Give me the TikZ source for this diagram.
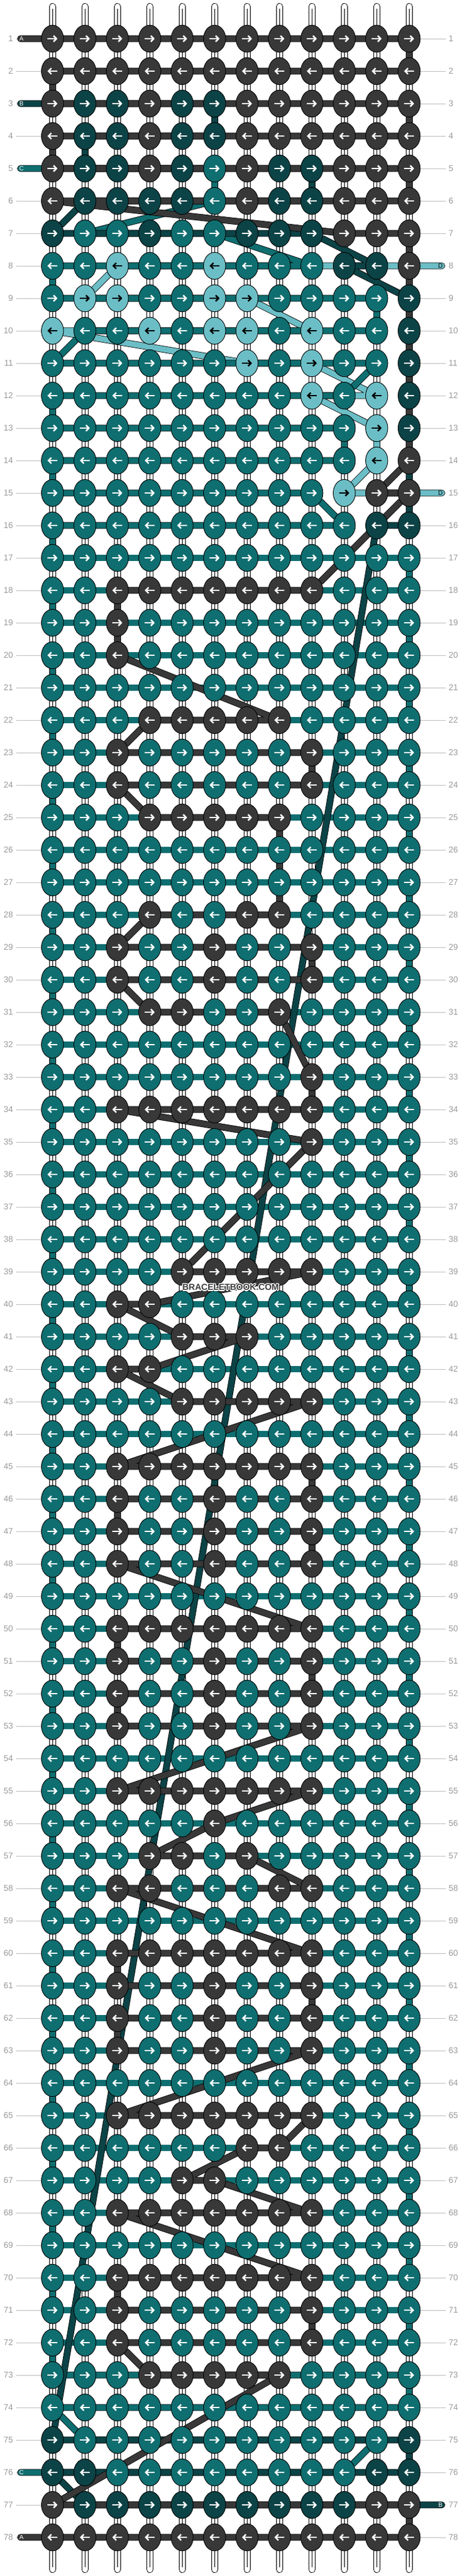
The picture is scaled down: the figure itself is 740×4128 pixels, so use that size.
\documentclass[tikz,border=0pt]{standalone}
\usepackage{fontspec}
\setmainfont{Liberation Sans}
\usetikzlibrary{shapes.geometric,arrows.meta}
\definecolor{colA}{HTML}{383838}
\definecolor{colB}{HTML}{0C4346}
\definecolor{colC}{HTML}{0F6E70}
\definecolor{colD}{HTML}{6CBEC6}
\definecolor{numgray}{HTML}{9A9A9A}
\definecolor{linegray}{HTML}{C0C0C0}
\definecolor{wmgray}{HTML}{3C3C3C}
\pgfdeclarelayer{back}
\pgfdeclarelayer{strings}
\pgfsetlayers{back,strings,main}
\tikzset{
  knot/.style={ellipse, draw=black, line width=0.9pt, minimum width=35.5pt, minimum height=43.3pt, inner sep=0pt},
  arr/.style={line width=2.4pt, -{Straight Barb[length=4.6pt,width=9.5pt]}},
  strand/.style={draw=black, line width=0.8pt, double distance=9.2pt, line cap=round, line join=round},
  strA/.style={strand, double=colA},
  strB/.style={strand, double=colB},
  strC/.style={strand, double=colC},
  strD/.style={strand, double=colD},
  basestrip/.style={draw=black, line width=0.8pt, double=white, double distance=9.4pt, line cap=round},
  stripmid/.style={draw=black, line width=0.6pt},
  rownum/.style={font=\fontsize{13.5}{14}\selectfont, text=numgray, inner sep=0pt},
  rowline/.style={draw=linegray, line width=1pt},
  tag/.style={font=\fontsize{10}{10}\selectfont, inner sep=0pt},
  wm/.style={font=\bfseries\fontsize{14}{14}\selectfont, inner sep=0pt}
}
\newcommand\placeknot[3]{%
  \node[knot, fill=col#3] (k#1-#2) at ({84.2+52*(#2-1)},{62+52*(#1-1)}) {};%
  \if#3D\def\arrcol{black}\else\def\arrcol{white}\fi
  \ifodd#1\relax
    \draw[arr, draw=\arrcol] ([xshift=-8pt]k#1-#2.center) -- ([xshift=8pt]k#1-#2.center);%
  \else
    \draw[arr, draw=\arrcol] ([xshift=8pt]k#1-#2.center) -- ([xshift=-8pt]k#1-#2.center);%
  \fi}
\makeatletter
\newcommand\knotrow[2]{%
  \def\kc{0}%
  \@tfor\kch:=#2\do{%
    \pgfmathtruncatemacro\kc{\kc+1}%
    \edef\kdo{\noexpand\placeknot{#1}{\kc}{\kch}}\kdo
  }}
\makeatother
\begin{document}
\begin{tikzpicture}[x=1pt,y=-1pt]
\useasboundingbox (0,0) rectangle (740,4128);
\begin{pgfonlayer}{back}
\fill[white] (0,0) rectangle (740,4128);
\foreach \c in {1,...,12} {
  \pgfmathsetmacro\xx{84.2+52*(\c-1)}
  \coordinate (st\c) at (\xx,10.5);
  \coordinate (sb\c) at (\xx,4117.5);
  \coordinate (mt\c) at (\xx,14);
  \coordinate (mb\c) at (\xx,4114);
  \draw[basestrip] (st\c) -- (sb\c);
  \draw[stripmid] (mt\c) -- (mb\c);
}
\end{pgfonlayer}
\knotrow{1}{AAAAAAAAAAAA}
\knotrow{2}{AAAAAAAAAAAA}
\knotrow{3}{ABBABBAAAAAA}
\knotrow{4}{ABBABBAAAAAA}
\knotrow{5}{ABBABCABBAAA}
\knotrow{6}{ABBBBCABBAAA}
\knotrow{7}{BCCBCCBBBAAA}
\knotrow{8}{CCDCCDCCCBBA}
\knotrow{9}{CDDCCDDCCCCB}
\knotrow{10}{DCCDCDDCDCCB}
\knotrow{11}{CCCCCCDCDCCB}
\knotrow{12}{CCCCCCCCDCDB}
\knotrow{13}{CCCCCCCCCCDB}
\knotrow{14}{CCCCCCCCCCDA}
\knotrow{15}{CCCCCCCCCDAA}
\knotrow{16}{CCCCCCCCCCBB}
\knotrow{17}{CCCCCCCCCCCC}
\knotrow{18}{CCAAAAAAACCC}
\knotrow{19}{CCACCCCCCCCC}
\knotrow{20}{CCACCCCCCCCC}
\knotrow{21}{CCCCCCCCCCCC}
\knotrow{22}{CCCAAAAACCCC}
\knotrow{23}{CCACCCCCACCC}
\knotrow{24}{CCACCCCCACCC}
\knotrow{25}{CCCAAAAACCCC}
\knotrow{26}{CCCCCCCCCCCC}
\knotrow{27}{CCCCCCCCCCCC}
\knotrow{28}{CCCACCAACCCC}
\knotrow{29}{CCACCACCACCC}
\knotrow{30}{CCACCACCACCC}
\knotrow{31}{CCCAACCACCCC}
\knotrow{32}{CCCCCCCCCCCC}
\knotrow{33}{CCCCCCCCACCC}
\knotrow{34}{CCAAAAAAACCC}
\knotrow{35}{CCCCCCCCACCC}
\knotrow{36}{CCCCCCCCCCCC}
\knotrow{37}{CCCCCCCCCCCC}
\knotrow{38}{CCCCCCCCCCCC}
\knotrow{39}{CCCCAAAAACCC}
\knotrow{40}{CCAACCCCCCCC}
\knotrow{41}{CCCCAAACCCCC}
\knotrow{42}{CCAACCCCCCCC}
\knotrow{43}{CCCCAAAAACCC}
\knotrow{44}{CCCCCCCCCCCC}
\knotrow{45}{CCAAAAAAACCC}
\knotrow{46}{CCACCACCACCC}
\knotrow{47}{CCACCACCACCC}
\knotrow{48}{CCACCACCACCC}
\knotrow{49}{CCCCCCCCCCCC}
\knotrow{50}{CCAAAAAAACCC}
\knotrow{51}{CCACCACCACCC}
\knotrow{52}{CCACCACCACCC}
\knotrow{53}{CCACCACCACCC}
\knotrow{54}{CCCCCCCCCCCC}
\knotrow{55}{CCAAAAAAACCC}
\knotrow{56}{CCCCCACCCCCC}
\knotrow{57}{CCCAACACCCCC}
\knotrow{58}{CCAACCCAACCC}
\knotrow{59}{CCCCCCCCCCCC}
\knotrow{60}{CCAAAAAAACCC}
\knotrow{61}{CCACCACCACCC}
\knotrow{62}{CCACCACCACCC}
\knotrow{63}{CCACCACCACCC}
\knotrow{64}{CCCCCCCCCCCC}
\knotrow{65}{CCAAAAAAACCC}
\knotrow{66}{CCCCCCAACCCC}
\knotrow{67}{CCCCAACCCCCC}
\knotrow{68}{CCAAAAAAACCC}
\knotrow{69}{CCCCCCCCCCCC}
\knotrow{70}{CCAAAAAAACCC}
\knotrow{71}{CCACCCCCACCC}
\knotrow{72}{CCACCCCCACCC}
\knotrow{73}{CCCAAAAACCCC}
\knotrow{74}{CCCCCCCCCCCC}
\knotrow{75}{BCCCCCCCCCCB}
\knotrow{76}{BBCCCCCCCCBB}
\knotrow{77}{ABBBBBBBBBAA}
\knotrow{78}{AAAAAAAAAAAA}
% row numbers and rule lines
\foreach \r in {1,...,78} {
  \pgfmathsetmacro\yy{62+52*(\r-1)}
  \node[rownum, anchor=east] (ln\r) at (21,\yy) {\r};
  \node[rownum, anchor=west] (rn\r) at (719.5,\yy) {\r};
  \begin{pgfonlayer}{back}
    \draw[rowline, shorten <=5pt] (ln\r) -- (k\r-1);
    \draw[rowline, shorten >=5pt] (k\r-12) -- (rn\r);
  \end{pgfonlayer}
}
% string ends
\coordinate (eA1) at (33,62);
\coordinate (eB1) at (33,166);
\coordinate (eC1) at (33,270);
\coordinate (eD1) at (708.5,426);
\coordinate (eD2) at (708.5,790);
\coordinate (eC2) at (33,3962);
\coordinate (eB2) at (708.5,4014);
\coordinate (eA2) at (33,4066);
\begin{pgfonlayer}{strings}
\draw[strD] (eD1) -- (k8-12) -- (k8-3) -- (k9-2) -- (k9-7) -- (k10-9) -- (k10-1)
  -- (k11-7) -- (k11-9) -- (k12-11) -- (k12-9) -- (k13-11) -- (k14-11)
  -- (k15-10) -- (k15-12) -- (eD2);
\draw[strC] (eC1) -- (k5-1) -- (k5-6) -- (k6-6) -- (k7-2) -- (k7-6) -- (k8-9) -- (k8-1)
  -- (k9-1) -- (k9-11) -- (k10-11) -- (k10-2) -- (k11-1) -- (k11-11) -- (k12-10)
  -- (k12-1) -- (k13-1) -- (k13-10) -- (k14-10) -- (k14-1) -- (k15-1) -- (k15-9)
  -- (k16-10) -- (k16-1) -- (k17-1);
\foreach \r [evaluate=\r as \rn using int(\r+1), evaluate=\r as \rnn using int(\r+2)] in {17,19,...,71} {
  \draw[strC] (k\r-1) -- (k\r-12) -- (k\rn-12) -- (k\rn-1) -- (k\rnn-1);
}
\draw[strC] (k73-1) -- (k73-12) -- (k74-12) -- (k74-1)
  -- (k75-2) -- (k75-11) -- (k76-10) -- (k76-1) -- (eC2);
\draw[strB] (eB1) -- (k3-1) -- (k3-6) -- (k4-6) -- (k4-2) -- (k5-2) -- (k5-9) -- (k6-9)
  -- (k6-2) -- (k7-1) -- (k7-9) -- (k8-11) -- (k8-10) -- (k9-12) -- (k16-12) -- (k16-11)
  -- (k75-1) -- (k75-12) -- (k76-12) -- (k76-1) -- (k77-2) -- (k77-12) -- (eB2);
\draw[strA] (eA1) -- (k1-1) -- (k1-12) -- (k2-12) -- (k2-1) -- (k3-1) -- (k3-12)
  -- (k4-12) -- (k4-1) -- (k5-1) -- (k5-12) -- (k6-12) -- (k6-1) -- (k7-10) -- (k7-12)
  -- (k8-12) -- (k14-12) -- (k15-11) -- (k15-12) -- (k18-9) -- (k18-3) -- (k20-3)
  -- (k22-8) -- (k22-4) -- (k23-3) -- (k23-9) -- (k24-9) -- (k24-3) -- (k25-4) -- (k25-8)
  -- (k28-8) -- (k28-4) -- (k29-3) -- (k29-9) -- (k30-9) -- (k30-3) -- (k31-4) -- (k31-8)
  -- (k33-9) -- (k34-9) -- (k34-3) -- (k35-9) -- (k39-5) -- (k39-9) -- (k40-4) -- (k40-3)
  -- (k41-5) -- (k41-7) -- (k42-4) -- (k42-3) -- (k43-5) -- (k43-9) -- (k45-3) -- (k45-9)
  -- (k46-9) -- (k46-3) -- (k47-3) -- (k47-9) -- (k48-9) -- (k48-3) -- (k50-9) -- (k50-3)
  -- (k51-3) -- (k51-9) -- (k52-9) -- (k52-3) -- (k53-3) -- (k53-9) -- (k55-3) -- (k55-9)
  -- (k56-6) -- (k57-4) -- (k57-7) -- (k58-9) -- (k58-3) -- (k60-9) -- (k60-3) -- (k61-3)
  -- (k61-9) -- (k62-9) -- (k62-3) -- (k63-3) -- (k63-9) -- (k65-3) -- (k65-9) -- (k66-8)
  -- (k66-7) -- (k67-5) -- (k67-6) -- (k68-9) -- (k68-3) -- (k70-9) -- (k70-3) -- (k71-3)
  -- (k71-9) -- (k72-9) -- (k72-3) -- (k73-4) -- (k73-8) -- (k77-1) -- (k77-12) -- (k78-12)
  -- (k78-1) -- (eA2);
\end{pgfonlayer}
% string tags
\node[tag, text=white] (tA1) at (34.5,62) {A};
\node[tag, text=white] (tB1) at (34.5,166) {B};
\node[tag, text=white] (tC1) at (34.5,270) {C};
\node[tag, text=black] (tD1) at (706.5,426) {D};
\node[tag, text=black] (tD2) at (706.5,790) {D};
\node[tag, text=white] (tC2) at (34.5,3962) {C};
\node[tag, text=white] (tB2) at (706.5,4014) {B};
\node[tag, text=white] (tA2) at (34.5,4066) {A};
% watermark
\foreach \dx/\dy [count=\i] in {-1.3/0,1.3/0,0/-1.3,0/1.3,-0.9/-0.9,0.9/-0.9,-0.9/0.9,0.9/0.9} {
  \node[wm, text=white] (wmh\i) at (370+\dx,2063+\dy) {BRACELETBOOK.COM};
}
\node[wm, text=wmgray] (wm) at (370,2063) {BRACELETBOOK.COM};
\end{tikzpicture}
\end{document}
